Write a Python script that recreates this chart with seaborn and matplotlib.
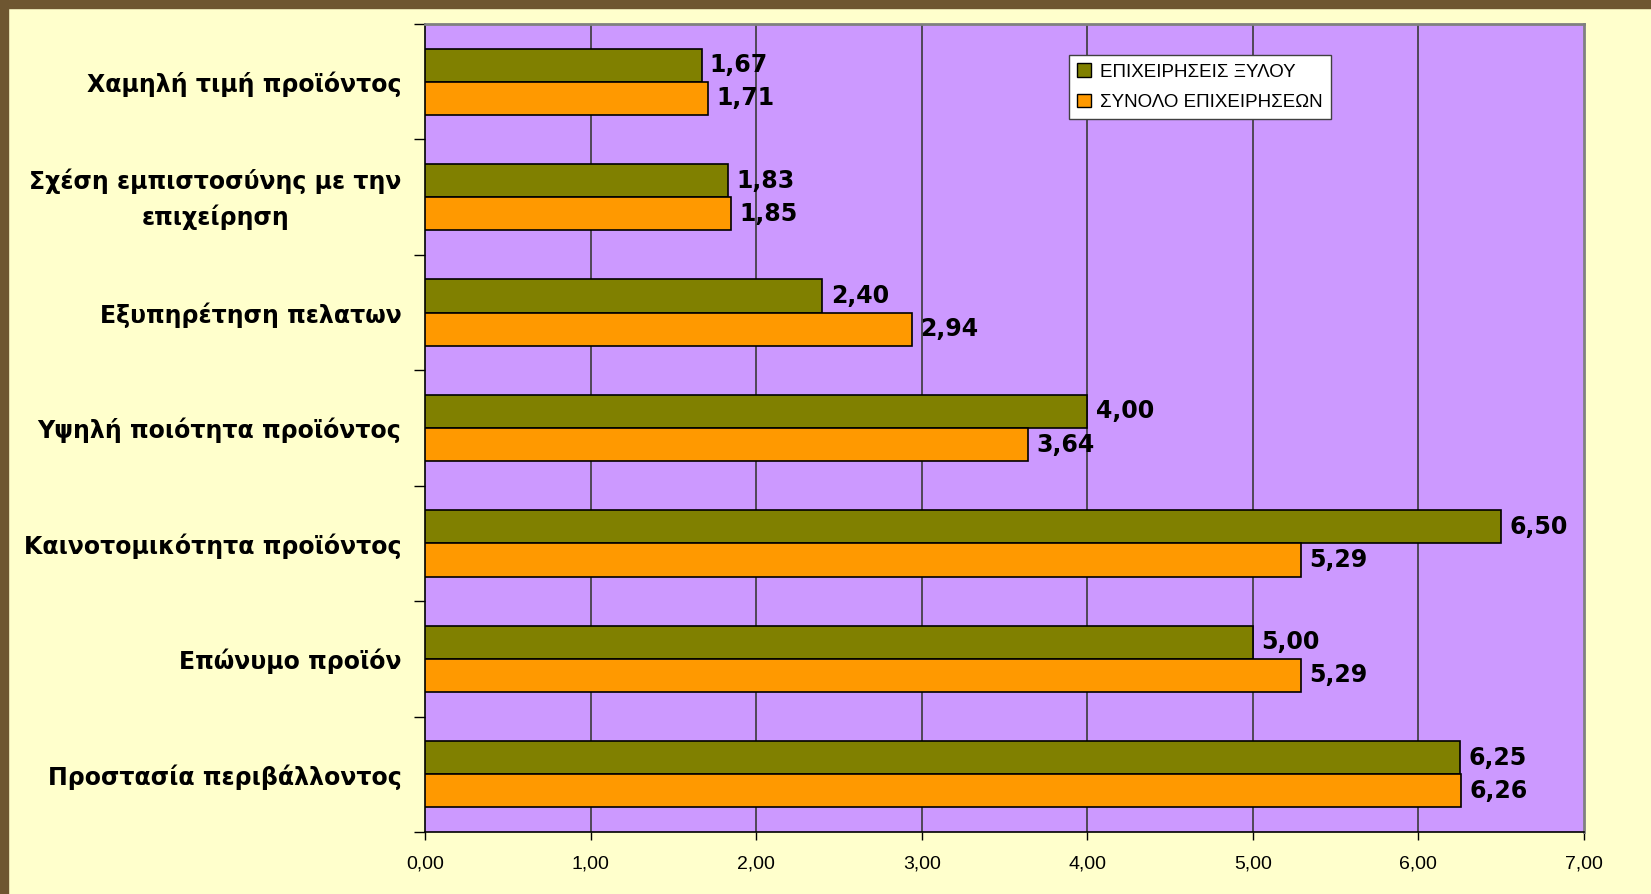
import matplotlib
matplotlib.use("Agg")
import matplotlib.pyplot as plt
import matplotlib.transforms as mtransforms
import seaborn as sns
import pandas as pd
from matplotlib.patches import Rectangle

categories = [
    "Χαμηλή τιμή προϊόντος",
    "Σχέση εμπιστοσύνης με την\nεπιχείρηση",
    "Εξυπηρέτηση πελατων",
    "Υψηλή ποιότητα προϊόντος",
    "Καινοτομικότητα προϊόντος",
    "Επώνυμο προϊόν",
    "Προστασία περιβάλλοντος",
]
series_names = ["ΕΠΙΧΕΙΡΗΣΕΙΣ ΞΥΛΟΥ", "ΣΥΝΟΛΟ ΕΠΙΧΕΙΡΗΣΕΩΝ"]
wood_values = [1.67, 1.83, 2.40, 4.00, 6.50, 5.00, 6.25]
total_values = [1.71, 1.85, 2.94, 3.64, 5.29, 5.29, 6.26]
x_ticks = [0, 1, 2, 3, 4, 5, 6, 7]

rows = []
for c, v in zip(categories, wood_values):
    rows.append({"category": c, "series": series_names[0], "value": v})
for c, v in zip(categories, total_values):
    rows.append({"category": c, "series": series_names[1], "value": v})
df = pd.DataFrame(rows)

sns.set_theme(style="white")
plt.rcParams["font.family"] = ["Liberation Sans", "DejaVu Sans"]
plt.rcParams["text.color"] = "black"
plt.rcParams["xtick.color"] = "black"
plt.rcParams["ytick.color"] = "black"
plt.rcParams["xtick.labelcolor"] = "black"
plt.rcParams["ytick.labelcolor"] = "black"

fig = plt.figure(figsize=(16.51, 8.94), dpi=100, facecolor="#FFFFCC")
ax = fig.add_axes([425/1651, 1-832/894, (1584-425)/1651, (832-24)/894])
ax.set_facecolor("#CC99FF")

sns.barplot(data=df, x="value", y="category", hue="series", orient="h",
            order=categories, hue_order=series_names,
            palette=["#808000", "#FF9900"], saturation=1, width=0.575,
            edgecolor="black", linewidth=1.2, ax=ax, zorder=3)

ax.set_xlim(0, 7)
ax.set_ylim(len(categories) - 0.5, -0.5)
ax.set_xticks(x_ticks)
ax.set_xticklabels([f"{t:.2f}".replace(".", ",") for t in x_ticks], fontsize=14)
ax.tick_params(axis="x", direction="out", length=6, width=1, color="black", pad=11, bottom=True)
ax.set_yticks(range(len(categories)))
ax.set_yticklabels(categories, fontsize=17, fontweight="bold",
                   family="DejaVu Sans", multialignment="center", linespacing=1.55)
ax.tick_params(axis="y", length=0, pad=17)
ax.set_yticks([i - 0.5 for i in range(len(categories) + 1)], minor=True)
ax.tick_params(axis="y", which="minor", direction="out", length=8, width=1, color="black", left=True)
ax.set_xlabel("")
ax.set_ylabel("")

for lbl in ax.get_yticklabels():
    if "\n" in lbl.get_text():
        lbl.set_transform(lbl.get_transform() +
                          mtransforms.ScaledTranslation(0, 6/100, fig.dpi_scale_trans))

for x in x_ticks[1:-1]:
    ax.axvline(x, color="#3a3a3a", lw=1.2, zorder=1)

for s in ["left", "bottom"]:
    ax.spines[s].set_color("black")
    ax.spines[s].set_linewidth(1.2)
for s in ["top", "right"]:
    ax.spines[s].set_color("#808080")
    ax.spines[s].set_linewidth(2)

for cont in ax.containers:
    ax.bar_label(cont, fmt=lambda v: f"{v:.2f}".replace(".", ","), padding=6,
                 fontsize=17, fontweight="bold", family="DejaVu Sans", color="black")

leg = ax.legend(loc="upper left", bbox_to_anchor=((1069-425)/1159, (832-55)/808),
                borderaxespad=0, frameon=True, fancybox=False, fontsize=13.5,
                handlelength=0.7, handleheight=0.7, handletextpad=0.5,
                labelspacing=0.7, borderpad=0.45, title=None)
leg.get_frame().set_edgecolor("#404040")
leg.get_frame().set_facecolor("white")
leg.get_frame().set_alpha(1)
leg.get_frame().set_linewidth(1)
for h in leg.legend_handles:
    h.set_edgecolor("black")
    h.set_linewidth(1)
for t in leg.get_texts():
    t.set_color("black")

border = "#6E5631"
fig.patches.append(Rectangle((0, 1 - 8/894), 1, 8/894, transform=fig.transFigure,
                             color=border, zorder=10))
fig.patches.append(Rectangle((0, 0), 8/1651, 1, transform=fig.transFigure,
                             color=border, zorder=10))

fig.savefig("out.png", dpi=100, facecolor=fig.get_facecolor())
